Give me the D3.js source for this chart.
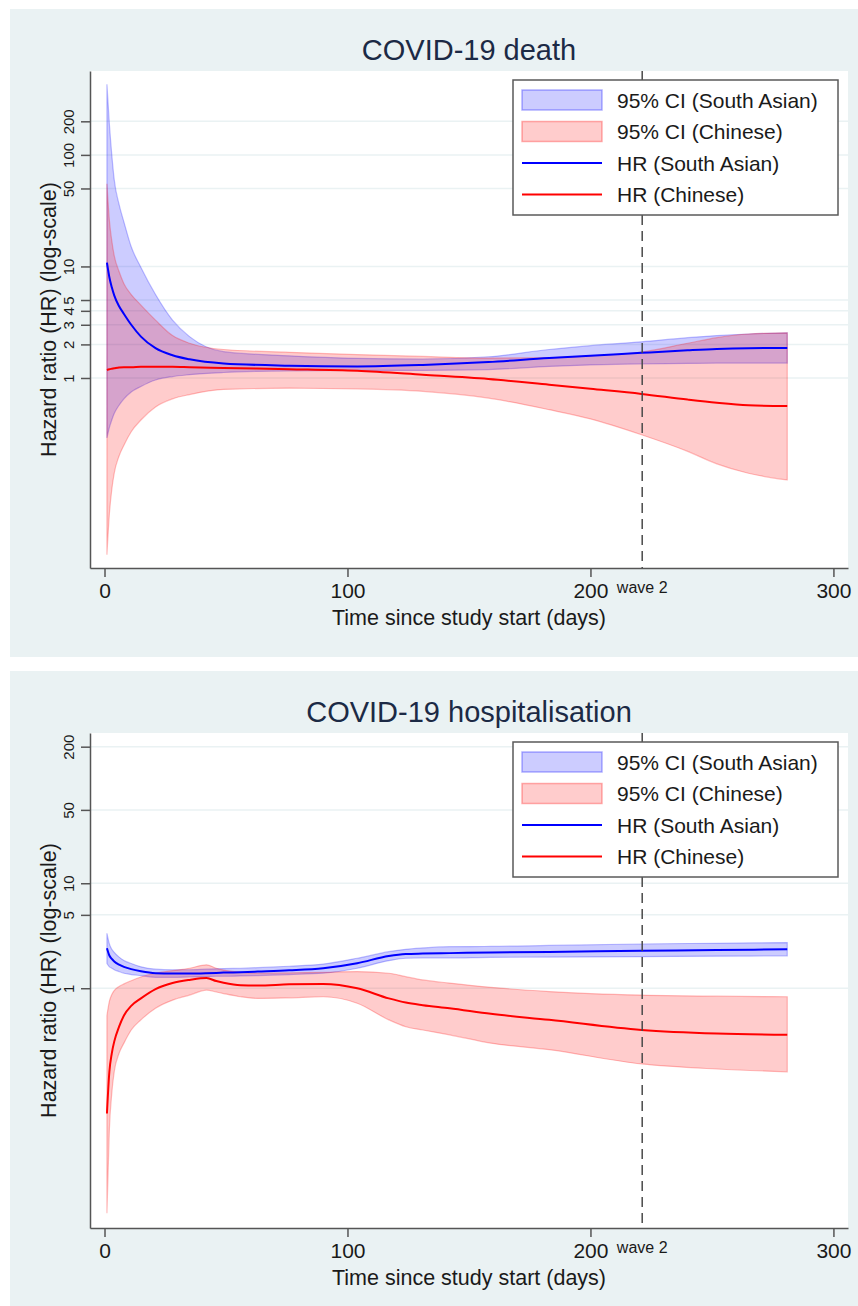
<!DOCTYPE html>
<html>
<head>
<meta charset="utf-8">
<script src="https://cdn.jsdelivr.net/npm/d3@7"></script>
<style>
  body { margin: 0; background: #fff; }
  text { font-family: "Liberation Sans", Arial, sans-serif; fill: #1a1a1a; }
</style>
</head>
<body>
<svg id="chart" width="858" height="1306"></svg>
<script>
// days since study start
var deathDays = [1, 2, 3, 4, 6, 8, 11, 15, 21, 28, 35, 49, 76, 104, 131, 158, 183, 200, 221, 240, 252, 265, 281];
var deathSaHr = [10.8, 8.0, 6.5, 5.5, 4.4, 3.75, 3.0, 2.35, 1.85, 1.6, 1.47, 1.35, 1.29, 1.27, 1.31, 1.39, 1.51, 1.58, 1.68, 1.77, 1.82, 1.85, 1.86];
var deathSaLo = [0.29, 0.36, 0.42, 0.48, 0.57, 0.65, 0.75, 0.84, 0.96, 1.03, 1.07, 1.12, 1.16, 1.17, 1.17, 1.19, 1.27, 1.31, 1.34, 1.35, 1.36, 1.36, 1.36];
var deathSaHi = [430, 190, 100, 60, 36, 25, 15, 9.8, 5.6, 3.3, 2.35, 1.72, 1.58, 1.5, 1.48, 1.55, 1.8, 1.95, 2.11, 2.3, 2.4, 2.48, 2.54];
var deathCnHr = [1.18, 1.2, 1.21, 1.22, 1.24, 1.25, 1.25, 1.26, 1.26, 1.26, 1.25, 1.23, 1.2, 1.16, 1.07, 0.98, 0.87, 0.8, 0.72, 0.64, 0.6, 0.57, 0.56];
var deathCnLo = [0.026, 0.06, 0.1, 0.14, 0.2, 0.25, 0.33, 0.42, 0.55, 0.65, 0.71, 0.79, 0.81, 0.8, 0.76, 0.66, 0.52, 0.43, 0.31, 0.22, 0.17, 0.14, 0.122];
var deathCnHi = [55, 26, 17, 12.5, 9, 7, 5.6, 4.5, 3.3, 2.4, 2.05, 1.8, 1.7, 1.62, 1.56, 1.51, 1.52, 1.58, 1.71, 2.05, 2.3, 2.48, 2.54];

var hospDays = [1, 2, 3, 4, 6, 8, 11, 15, 21, 28, 35, 42, 46, 49, 56, 63, 76, 90, 104, 117, 124, 131, 142, 159, 183, 221, 252, 281];
var hospSaHr = [2.4, 2.05, 1.9, 1.8, 1.68, 1.6, 1.52, 1.45, 1.39, 1.38, 1.38, 1.39, 1.4, 1.41, 1.42, 1.44, 1.48, 1.55, 1.73, 2.03, 2.12, 2.14, 2.16, 2.19, 2.22, 2.27, 2.31, 2.35];
var hospSaLo = [1.72, 1.6, 1.55, 1.5, 1.44, 1.39, 1.35, 1.32, 1.27, 1.27, 1.28, 1.29, 1.3, 1.3, 1.31, 1.32, 1.35, 1.39, 1.55, 1.83, 1.93, 1.94, 1.94, 1.97, 1.98, 2.0, 2.02, 2.03];
var hospSaHi = [3.34, 2.65, 2.35, 2.2, 1.98, 1.84, 1.72, 1.6, 1.52, 1.5, 1.5, 1.52, 1.53, 1.54, 1.55, 1.57, 1.62, 1.7, 1.93, 2.23, 2.35, 2.42, 2.49, 2.5, 2.56, 2.64, 2.68, 2.72];
var hospCnHr = [0.064, 0.16, 0.24, 0.31, 0.43, 0.55, 0.68, 0.8, 0.98, 1.12, 1.2, 1.25, 1.17, 1.13, 1.07, 1.06, 1.09, 1.1, 1.0, 0.8, 0.73, 0.69, 0.645, 0.57, 0.5, 0.4, 0.37, 0.36];
var hospCnLo = [0.0072, 0.045, 0.1, 0.16, 0.24, 0.3, 0.4, 0.5, 0.645, 0.77, 0.86, 0.96, 0.92, 0.89, 0.83, 0.8, 0.81, 0.83, 0.72, 0.5, 0.43, 0.4, 0.36, 0.3, 0.26, 0.19, 0.17, 0.16];
var hospCnHi = [0.55, 0.75, 0.87, 0.95, 1.04, 1.1, 1.18, 1.28, 1.39, 1.47, 1.55, 1.67, 1.55, 1.49, 1.42, 1.39, 1.4, 1.42, 1.44, 1.39, 1.29, 1.2, 1.12, 1.02, 0.93, 0.86, 0.84, 0.83];

var xTicks = [0, 100, 200, 300];
var deathYTicks = [1, 2, 3, 4, 5, 10, 50, 100, 200];
var hospYTicks = [1, 5, 10, 50, 200];
var wave2Day = 221.3;
var legendLabels = ['95% CI (South Asian)', '95% CI (Chinese)', 'HR (South Asian)', 'HR (Chinese)'];

var svg = d3.select('#chart');

function drawPanel(cfg) {
  var g = svg.append('g');
  var left = 90, right = 848, top = cfg.top, bottom = cfg.top + cfg.h;

  g.append('rect').attr('x', 10).attr('y', cfg.bgTop).attr('width', 848).attr('height', cfg.bgH)
    .attr('fill', '#eaf2f3');
  g.append('rect').attr('x', left).attr('y', top).attr('width', right - left).attr('height', bottom - top)
    .attr('fill', '#fff');

  var x = d3.scaleLinear().domain([-5.97, 306]).range([left, right]);
  var y = d3.scaleLog().domain(cfg.yDomain).range([bottom, top]);

  // grid
  g.selectAll('.grid').data(cfg.yTicks).enter().append('line')
    .attr('x1', left).attr('x2', right)
    .attr('y1', function(d) { return y(d); }).attr('y2', function(d) { return y(d); })
    .attr('stroke', '#eaf2f3').attr('stroke-width', 1.5);

  var rows = cfg.days.map(function(d, i) {
    return { d: d, saHr: cfg.saHr[i], saLo: cfg.saLo[i], saHi: cfg.saHi[i],
             cnHr: cfg.cnHr[i], cnLo: cfg.cnLo[i], cnHi: cfg.cnHi[i] };
  });

  var band = function(lo, hi) {
    return d3.area().curve(d3.curveMonotoneX)
      .x(function(r) { return x(r.d); })
      .y0(function(r) { return y(r[lo]); })
      .y1(function(r) { return y(r[hi]); });
  };
  var line = function(k) {
    return d3.line().curve(d3.curveMonotoneX)
      .x(function(r) { return x(r.d); })
      .y(function(r) { return y(r[k]); });
  };

  g.append('path').datum(rows).attr('d', band('saLo', 'saHi'))
    .attr('fill', 'rgba(0,0,255,0.2)').attr('stroke', 'rgba(0,0,255,0.25)').attr('stroke-width', 1.2);
  g.append('path').datum(rows).attr('d', band('cnLo', 'cnHi'))
    .attr('fill', 'rgba(255,0,0,0.2)').attr('stroke', 'rgba(255,0,0,0.25)').attr('stroke-width', 1.2);
  g.append('path').datum(rows).attr('d', line('saHr'))
    .attr('fill', 'none').attr('stroke', '#0000ff').attr('stroke-width', 2);
  g.append('path').datum(rows).attr('d', line('cnHr'))
    .attr('fill', 'none').attr('stroke', '#ff0000').attr('stroke-width', 2);

  // wave 2 line
  g.append('line').attr('x1', x(wave2Day)).attr('x2', x(wave2Day)).attr('y1', top).attr('y2', bottom)
    .attr('stroke', '#4a4a4a').attr('stroke-width', 1.5).attr('stroke-dasharray', '10,6');

  // axes
  var xAxis = g.append('g').attr('transform', 'translate(0,' + bottom + ')')
    .call(d3.axisBottom(x).tickValues(xTicks).tickSize(9).tickSizeOuter(0).tickPadding(6));
  xAxis.select('.domain').attr('stroke', '#555').attr('stroke-width', 1.5);
  xAxis.selectAll('.tick line').attr('stroke', '#555').attr('stroke-width', 1.5);
  xAxis.selectAll('.tick text').attr('font-size', 21).attr('font-family', null).attr('fill', '#1a1a1a');

  var yAxis = g.append('g').attr('transform', 'translate(' + left + ',0)')
    .call(d3.axisLeft(y).tickValues(cfg.yTicks).tickFormat(d3.format('d')).tickSize(9).tickSizeOuter(0).tickPadding(0));
  yAxis.select('.domain').attr('stroke', '#555').attr('stroke-width', 1.5);
  yAxis.selectAll('.tick line').attr('stroke', '#555').attr('stroke-width', 1.5);
  yAxis.selectAll('.tick text').remove();
  yAxis.selectAll('.tick').append('text')
    .attr('transform', 'translate(-16,0) rotate(-90)')
    .attr('text-anchor', 'middle')
    .attr('font-size', 15)
    .attr('font-family', null)
    .attr('fill', '#1a1a1a')
    .text(function(d) { return d; });

  g.append('text').attr('x', x(wave2Day)).attr('y', bottom + 25).attr('text-anchor', 'middle')
    .attr('font-size', 16).text('wave 2');

  g.append('text').attr('x', (left + right) / 2).attr('y', bottom + 57).attr('text-anchor', 'middle')
    .attr('font-size', 21.5).text('Time since study start (days)');

  g.append('text').attr('transform', 'translate(56,' + ((top + bottom) / 2) + ') rotate(-90)')
    .attr('text-anchor', 'middle').attr('font-size', 21.5).text('Hazard ratio (HR) (log-scale)');

  g.append('text').attr('x', (left + right) / 2).attr('y', top - 11).attr('text-anchor', 'middle')
    .attr('font-size', 29).style('fill', '#1c2a45').text(cfg.title);

  // legend
  var lg = g.append('g').attr('transform', 'translate(513,' + (top + 9) + ')');
  lg.append('rect').attr('width', 325).attr('height', 135).attr('fill', '#fff')
    .attr('stroke', '#5a5a5a').attr('stroke-width', 1.5);
  var rowY = [20, 51.5, 83, 114.5];
  lg.append('rect').attr('x', 9).attr('y', rowY[0] - 10).attr('width', 80).attr('height', 20)
    .attr('fill', 'rgba(0,0,255,0.2)').attr('stroke', 'rgba(0,0,255,0.3)').attr('stroke-width', 1.5);
  lg.append('rect').attr('x', 9).attr('y', rowY[1] - 10).attr('width', 80).attr('height', 20)
    .attr('fill', 'rgba(255,0,0,0.2)').attr('stroke', 'rgba(255,0,0,0.3)').attr('stroke-width', 1.5);
  lg.append('line').attr('x1', 9).attr('x2', 89).attr('y1', rowY[2]).attr('y2', rowY[2])
    .attr('stroke', '#0000ff').attr('stroke-width', 2);
  lg.append('line').attr('x1', 9).attr('x2', 89).attr('y1', rowY[3]).attr('y2', rowY[3])
    .attr('stroke', '#ff0000').attr('stroke-width', 2);
  lg.selectAll('.lab').data(legendLabels).enter().append('text')
    .attr('x', 104).attr('y', function(d, i) { return rowY[i] + 7.5; })
    .attr('font-size', 21).text(function(d) { return d; });
}

drawPanel({
  title: 'COVID-19 death', bgTop: 9, bgH: 648, top: 71, h: 497,
  yDomain: [0.0198, 565], yTicks: deathYTicks, days: deathDays,
  saHr: deathSaHr, saLo: deathSaLo, saHi: deathSaHi,
  cnHr: deathCnHr, cnLo: deathCnLo, cnHi: deathCnHi
});

drawPanel({
  title: 'COVID-19 hospitalisation', bgTop: 671, bgH: 635, top: 733, h: 495,
  yDomain: [0.0052, 270], yTicks: hospYTicks, days: hospDays,
  saHr: hospSaHr, saLo: hospSaLo, saHi: hospSaHi,
  cnHr: hospCnHr, cnLo: hospCnLo, cnHi: hospCnHi
});
</script>
</body>
</html>
